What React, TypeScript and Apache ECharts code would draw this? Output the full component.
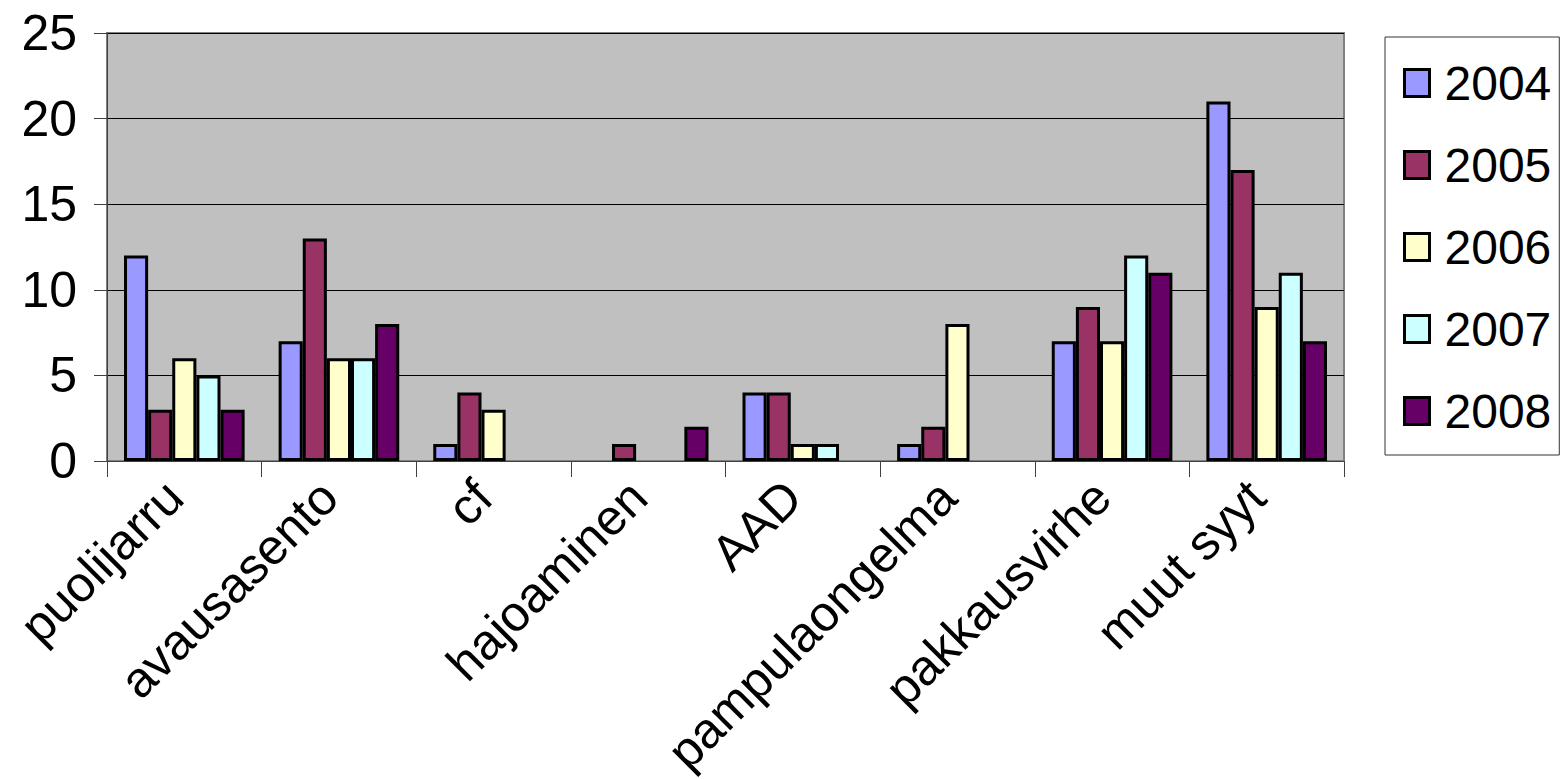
import React, { useEffect, useRef } from "react";
import * as echarts from "echarts";

const categories = [
  "puolijarru",
  "avausasento",
  "cf",
  "hajoaminen",
  "AAD",
  "pampulaongelma",
  "pakkausvirhe",
  "muut syyt",
];
const seriesNames = ["2004", "2005", "2006", "2007", "2008"];
const v2004 = [12, 7, 1, 0, 4, 1, 7, 21];
const v2005 = [3, 13, 4, 1, 4, 2, 9, 17];
const v2006 = [6, 6, 3, 0, 1, 8, 7, 9];
const v2007 = [5, 6, 0, 0, 1, 0, 12, 11];
const v2008 = [3, 8, 0, 2, 0, 0, 11, 7];
const seriesValues = [v2004, v2005, v2006, v2007, v2008];
const colors = ["#9999FF", "#993366", "#FFFFCC", "#CCFFFF", "#660066"];
const yTicks = { min: 0, max: 25, interval: 5 };

const FONT = "'Liberation Sans', Arial, sans-serif";

export default function App() {
  const ref = useRef<HTMLDivElement>(null);
  useEffect(() => {
    if (!ref.current) return;
    const chart = echarts.init(ref.current, undefined, { renderer: "svg" });
    chart.setOption({
      animation: false,
      backgroundColor: "#ffffff",
      grid: {
        left: 107,
        right: 217,
        top: 33,
        bottom: 318,
        containLabel: false,
        outerBoundsMode: "none",
        show: true,
        backgroundColor: "#C0C0C0",
        borderColor: "#808080",
        borderWidth: 2,
      },
      legend: {
        orient: "vertical",
        left: 1385,
        top: 37,
        width: 170,
        padding: [22, 8, 20, 18],
        itemGap: 34,
        itemWidth: 25,
        itemHeight: 27,
        borderColor: "#333333",
        borderWidth: 1,
        backgroundColor: "#ffffff",
        icon: "rect",
        itemStyle: { borderColor: "#000000", borderWidth: 3 },
        textStyle: { fontFamily: FONT, fontSize: 48, color: "#000000", padding: [0, 0, 0, 10] },
        data: seriesNames,
      },
      xAxis: {
        type: "category",
        data: categories,
        axisLine: { show: true, lineStyle: { color: "#404040", width: 1 } },
        axisTick: { show: true, length: 16, lineStyle: { color: "#404040" } },
        axisLabel: {
          rotate: 45,
          interval: 0,
          margin: 18,
          padding: [0, 14, 0, 0],
          fontFamily: FONT,
          fontSize: 50,
          color: "#000000",
        },
      },
      yAxis: {
        type: "value",
        min: yTicks.min,
        max: yTicks.max,
        interval: yTicks.interval,
        axisLine: { show: true, lineStyle: { color: "#404040", width: 1 } },
        axisTick: { show: true, length: 13, lineStyle: { color: "#404040" } },
        splitLine: { show: true, lineStyle: { color: "#000000", width: 1 } },
        axisLabel: {
          margin: 30,
          fontFamily: FONT,
          fontSize: 50,
          color: "#000000",
        },
      },
      series: seriesNames.map((name, i) => ({
        name,
        type: "bar",
        data: seriesValues[i].map((v) => (v === 0 ? null : v)),
        barGap: "0%",
        barCategoryGap: "22%",
        itemStyle: { color: colors[i], borderColor: "#000000", borderWidth: 3 },
      })),
    });
    return () => chart.dispose();
  }, []);
  return (
    <div
      ref={ref}
      style={{ position: "fixed", left: 0, top: 0, width: 1561, height: 779 }}
    />
  );
}
